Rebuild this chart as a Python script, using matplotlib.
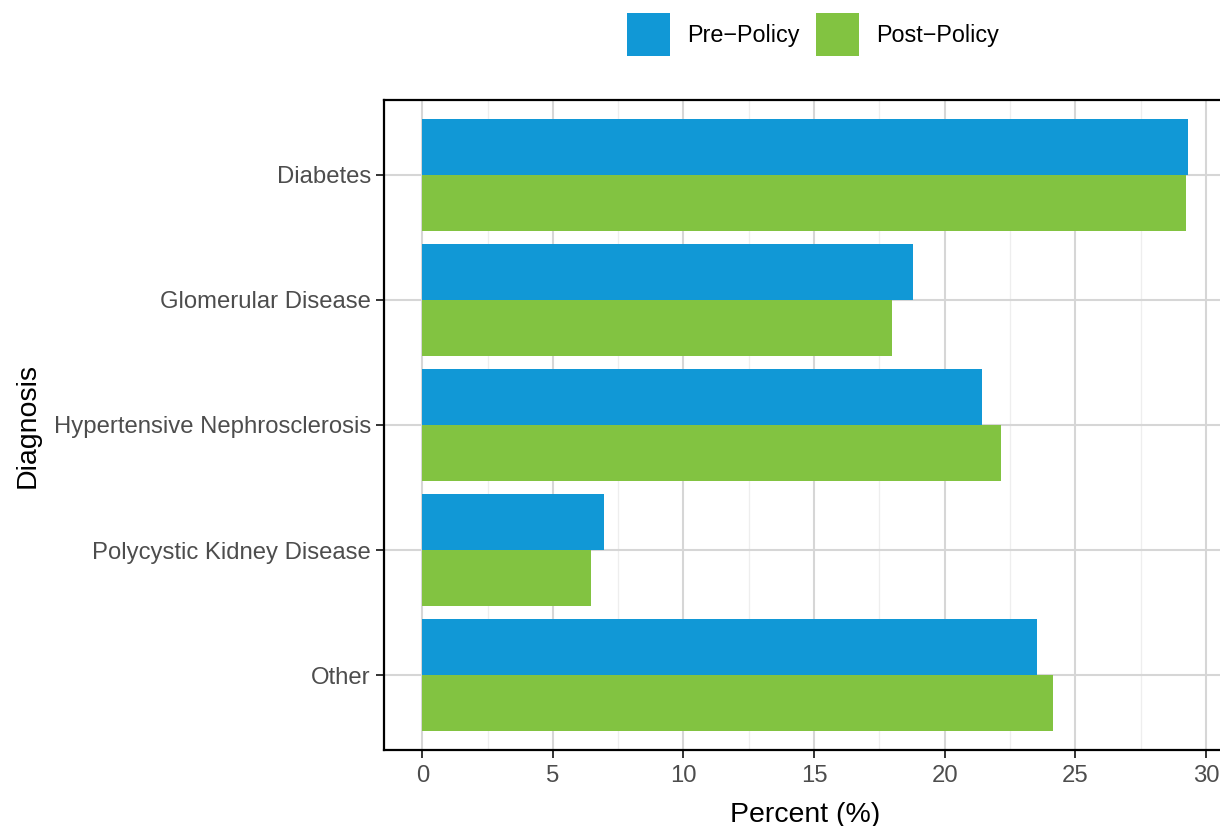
import matplotlib
matplotlib.use("Agg")
import matplotlib.pyplot as plt
import numpy as np

categories = ["Diabetes", "Glomerular Disease", "Hypertensive Nephrosclerosis",
              "Polycystic Kidney Disease", "Other"]
pre_policy = [29.31, 18.79, 21.43, 6.97, 23.54]
post_policy = [29.24, 17.99, 22.16, 6.47, 24.15]
series_names = ["Pre\u2212Policy", "Post\u2212Policy"]
x_ticks = [0, 5, 10, 15, 20, 25, 30]

plt.rcParams['font.family'] = ['Liberation Sans', 'DejaVu Sans']

fig = plt.figure(figsize=(12.2, 8.26), dpi=100)
ax = fig.add_axes([384/1220, 76/826, (1226-384)/1220, 650/826])

blue = "#1198D6"
green = "#82C341"
n = len(categories)
pos = np.arange(n)[::-1]  # Diabetes on top
h = 0.45
ax.barh(pos + h/2, pre_policy, height=h, color=blue, label=series_names[0], zorder=3)
ax.barh(pos - h/2, post_policy, height=h, color=green, label=series_names[1], zorder=3)

ax.set_xlim(-1.465, 30.77)
ax.set_ylim(-0.6, n - 0.4)
ax.set_yticks(pos)
ax.set_yticklabels(categories)
ax.set_xticks(x_ticks)
ax.set_xticks([2.5, 7.5, 12.5, 17.5, 22.5, 27.5], minor=True)

ax.grid(True, which='major', axis='both', color='#D6D6D6', linewidth=1.5, zorder=0)
ax.grid(True, which='minor', axis='x', color='#EEEEEE', linewidth=0.9, zorder=0)
ax.set_axisbelow(True)

for s in ['top', 'bottom', 'left']:
    ax.spines[s].set_color('black')
    ax.spines[s].set_linewidth(1.6)
ax.spines['right'].set_visible(False)

ax.tick_params(axis='both', which='major', length=5.5, width=1.4, color='#333333',
               labelsize=17.2, labelcolor='#4D4D4D', pad=4)
ax.tick_params(axis='x', which='major', pad=5)
ax.tick_params(axis='x', which='minor', length=0)

ax.set_xlabel("Percent (%)", fontsize=20.5, color='black', labelpad=11)
fig.text(28/1220, (826-425)/826, "Diagnosis", rotation=90, fontsize=20.5,
         ha='center', va='center', color='black')

fig.legend(loc='center', bbox_to_anchor=(813/1220, 1 - 34.5/826), ncol=2, frameon=False,
           fontsize=16.8, handlelength=1.83, handleheight=2.47, handletextpad=0.72,
           columnspacing=0.72)

fig.savefig("out.png", dpi=100)
